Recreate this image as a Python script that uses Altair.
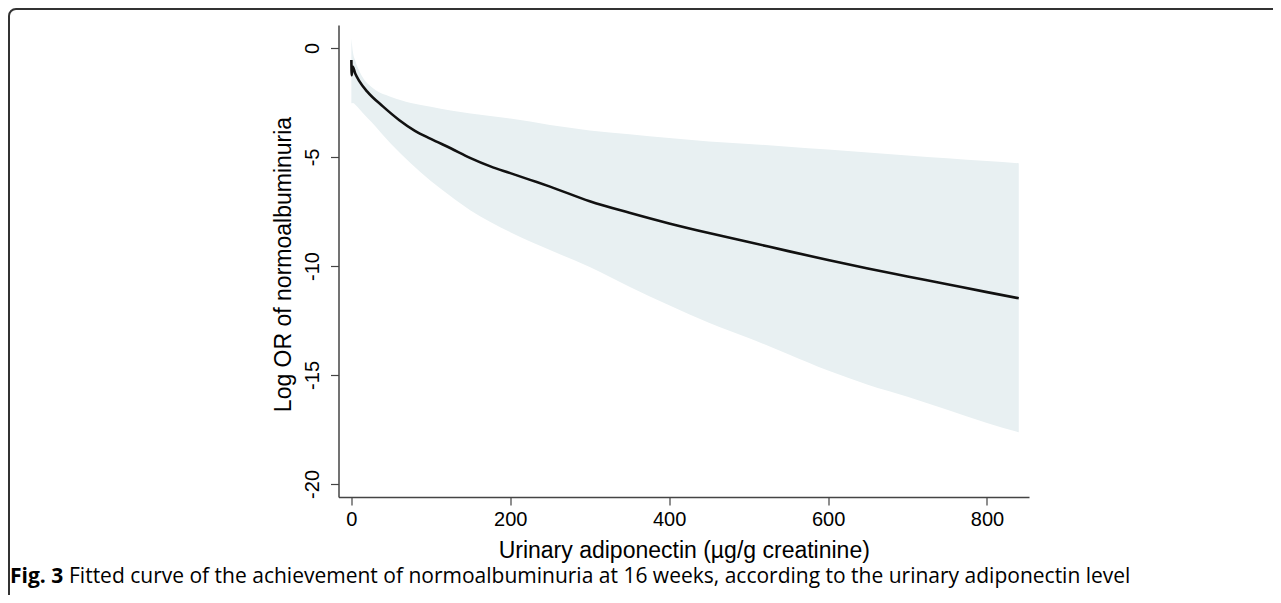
import altair as alt
import pandas as pd

# ---- data ----
band_x = [0, 2, 5, 10, 15, 25, 50, 75, 100, 125, 150, 175, 200, 250, 300, 350, 400, 450, 500, 550, 600, 650, 700, 750, 800, 840]
band_upper = [0.44, -0.2, -0.6, -1.05, -1.39, -1.78, -2.25, -2.52, -2.70, -2.87, -3.0, -3.12, -3.24, -3.53, -3.78, -3.96, -4.13, -4.29, -4.40, -4.53, -4.66, -4.8, -4.93, -5.06, -5.19, -5.29]
band_lower = [-2.54, -2.52, -2.6, -2.8, -3.0, -3.38, -4.4, -5.3, -6.1, -6.8, -7.45, -7.98, -8.45, -9.27, -10.05, -10.95, -11.8, -12.6, -13.3, -14.05, -14.8, -15.45, -16.0, -16.6, -17.2, -17.63]

line_x = [0, 0.4, 1.5, 5, 10, 20, 40, 60, 80, 100, 125, 150, 175, 200, 225, 250, 300, 350, 400, 450, 500, 550, 600, 650, 700, 750, 800, 840]
line_fit = [-0.55, -1.25, -0.85, -1.18, -1.52, -2.0, -2.69, -3.3, -3.8, -4.17, -4.6, -5.05, -5.43, -5.74, -6.05, -6.36, -7.03, -7.56, -8.05, -8.49, -8.9, -9.32, -9.73, -10.12, -10.48, -10.84, -11.2, -11.48]

x_ticks = [0, 200, 400, 600, 800]
y_ticks = [0, -5, -10, -15, -20]

x_title = "Urinary adiponectin (µg/g creatinine)"
y_title = "Log OR of normoalbuminuria"
cap_bold = "Fig. 3"
cap_text = "Fitted curve of the achievement of normoalbuminuria at 16 weeks, according to the urinary adiponectin level"

band_df = pd.DataFrame({"x": band_x, "lo": band_lower, "hi": band_upper})
line_df = pd.DataFrame({"x": line_x, "y": line_fit})

W, H = 690.5, 472
PL, PT = 330.5, 17
PR = 1265 - PL - W
PB = 587 - PT - H

xscale = alt.Scale(domain=[-16.2, 852.9], nice=False, zero=False)
yscale = alt.Scale(domain=[-20.6, 1.055], nice=False, zero=False)

axis_common = dict(
    grid=False,
    domainColor="#444444",
    domainWidth=1.5,
    tickColor="#444444",
    tickWidth=1.2,
    tickSize=8,
    labelFont="Liberation Sans",
    labelFontSize=20,
    labelColor="#000000",
    labelExpr="'' + datum.value",
    titleFont="Liberation Sans",
    titleFontSize=23,
    titleFontWeight="normal",
    titleColor="#000000",
)

x_enc = alt.X(
    "x:Q",
    scale=xscale,
    axis=alt.Axis(values=x_ticks, title=x_title, labelPadding=4,
                  titleX=W / 2, titleY=60, titleAlign="center",
                  titleBaseline="alphabetic", **axis_common),
)

band = alt.Chart(band_df).mark_area(color="#E8F0F2", opacity=1, interpolate="monotone").encode(
    x=x_enc,
    y=alt.Y("lo:Q", scale=yscale,
            axis=alt.Axis(values=y_ticks, title=y_title, labelAngle=270,
                          labelAlign="center", labelBaseline="bottom", labelPadding=8,
                          titleX=-55, titleY=239, titleAngle=270, titleAlign="center",
                          titleBaseline="middle", **axis_common)),
    y2="hi:Q",
)

line = alt.Chart(line_df).mark_line(color="#111111", strokeWidth=2.6, interpolate="monotone").encode(
    x=alt.X("x:Q", scale=xscale),
    y=alt.Y("y:Q", scale=yscale),
)

frame_df = pd.DataFrame({"k": [0]})
frame = alt.Chart(frame_df).mark_rect(
    fillOpacity=0, stroke="#333333", strokeWidth=2, cornerRadius=7
).encode(
    x=alt.value(9 - 8 - PL), x2=alt.value(1400),
    y=alt.value(9 - 8 - PT), y2=alt.value(1000),
)

cap1 = alt.Chart(pd.DataFrame({"t": [cap_bold]})).mark_text(
    font="Open Sans", fontSize=21, fontWeight="bold", align="left", baseline="alphabetic", color="#000000"
).encode(text="t:N", x=alt.value(10 - 8 - PL), y=alt.value(583 - 8 - PT))

cap2 = alt.Chart(pd.DataFrame({"t": [cap_text]})).mark_text(
    font="Open Sans", fontSize=21, align="left", baseline="alphabetic", color="#000000"
).encode(text="t:N", x=alt.value(69 - 8 - PL), y=alt.value(583 - 8 - PT))

chart = alt.layer(frame, band, line, cap1, cap2).properties(
    width=W, height=H,
    autosize=alt.AutoSizeParams(type="none"),
    padding={"left": PL, "top": PT, "right": PR, "bottom": PB},
    background="#ffffff",
).configure_view(stroke=None)

chart.save("out.html", embed_options={"renderer": "svg", "actions": False})
